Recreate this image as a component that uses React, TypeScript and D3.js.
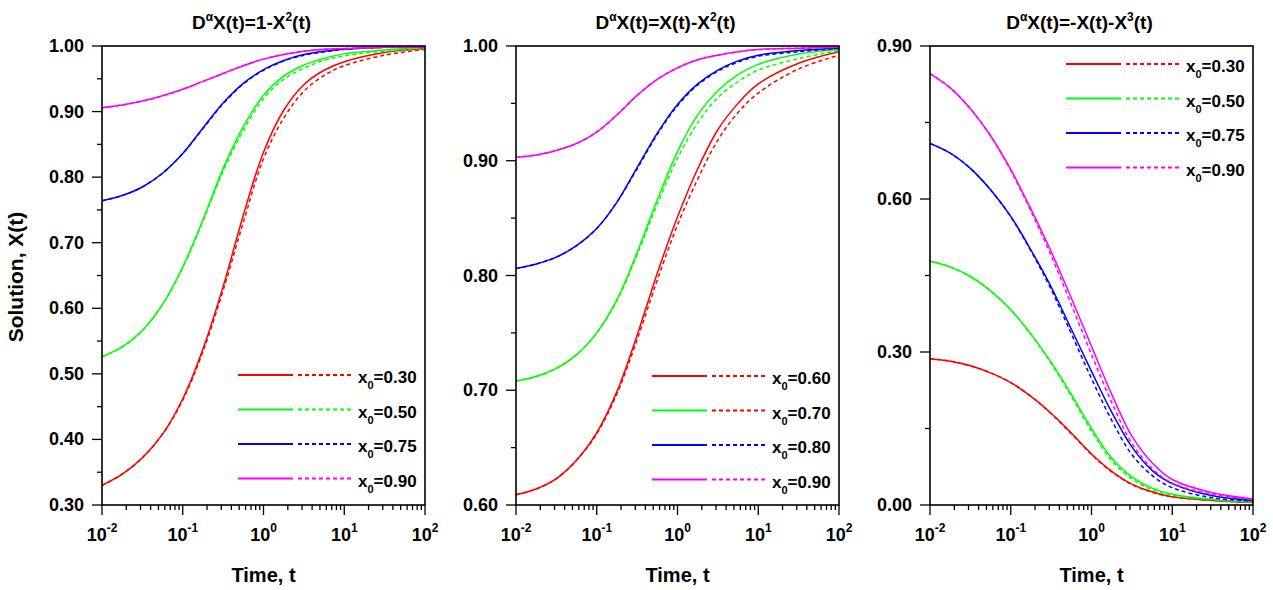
import * as d3 from "d3";

const times = [0.01, 0.0178, 0.0316, 0.0562, 0.1, 0.178, 0.316, 0.562, 1, 1.78, 3.16, 5.62, 10, 31.6, 100];

// panel 1: D^a X = 1 - X^2
const p1Labels = ["0.30", "0.50", "0.75", "0.90"];
const p1RedSolid = [0.330, 0.347, 0.372, 0.408, 0.462, 0.538, 0.633, 0.742, 0.838, 0.902, 0.941, 0.963, 0.976, 0.990, 0.996];
const p1RedDash = [0.330, 0.347, 0.372, 0.408, 0.460, 0.534, 0.627, 0.731, 0.828, 0.890, 0.931, 0.955, 0.970, 0.986, 0.995];
const p1GreenSolid = [0.526, 0.541, 0.566, 0.606, 0.663, 0.735, 0.813, 0.877, 0.925, 0.954, 0.971, 0.981, 0.988, 0.994, 0.998];
const p1GreenDash = [0.526, 0.541, 0.566, 0.606, 0.662, 0.733, 0.809, 0.871, 0.920, 0.949, 0.966, 0.978, 0.985, 0.992, 0.997];
const p1BlueSolid = [0.764, 0.772, 0.785, 0.806, 0.836, 0.875, 0.913, 0.943, 0.964, 0.978, 0.987, 0.992, 0.995, 0.998, 0.999];
const p1BlueDash = [0.764, 0.772, 0.785, 0.806, 0.836, 0.874, 0.912, 0.942, 0.963, 0.977, 0.986, 0.991, 0.995, 0.998, 0.999];
const p1MagSolid = [0.906, 0.910, 0.916, 0.924, 0.934, 0.946, 0.958, 0.970, 0.980, 0.987, 0.992, 0.995, 0.996, 0.998, 0.999];
const p1MagDash = [0.906, 0.910, 0.916, 0.924, 0.934, 0.946, 0.958, 0.970, 0.980, 0.987, 0.992, 0.995, 0.996, 0.998, 0.999];

// panel 2: D^a X = X - X^2
const p2Labels = ["0.60", "0.70", "0.80", "0.90"];
const p2RedSolid = [0.609, 0.614, 0.623, 0.639, 0.663, 0.699, 0.748, 0.802, 0.851, 0.893, 0.927, 0.950, 0.967, 0.985, 0.995];
const p2RedDash = [0.609, 0.614, 0.623, 0.639, 0.662, 0.697, 0.744, 0.796, 0.844, 0.884, 0.918, 0.942, 0.959, 0.980, 0.992];
const p2GreenSolid = [0.708, 0.712, 0.719, 0.731, 0.750, 0.779, 0.820, 0.866, 0.908, 0.940, 0.961, 0.975, 0.984, 0.993, 0.997];
const p2GreenDash = [0.708, 0.712, 0.719, 0.731, 0.750, 0.778, 0.818, 0.862, 0.902, 0.933, 0.955, 0.969, 0.979, 0.989, 0.996];
const p2BlueSolid = [0.806, 0.810, 0.816, 0.826, 0.841, 0.864, 0.894, 0.924, 0.949, 0.967, 0.979, 0.987, 0.992, 0.996, 0.998];
const p2BlueDash = [0.806, 0.810, 0.816, 0.826, 0.841, 0.864, 0.893, 0.923, 0.948, 0.966, 0.978, 0.986, 0.991, 0.995, 0.998];
const p2MagSolid = [0.903, 0.905, 0.909, 0.915, 0.925, 0.940, 0.957, 0.971, 0.981, 0.988, 0.992, 0.995, 0.997, 0.998, 0.999];
const p2MagDash = [0.903, 0.905, 0.909, 0.915, 0.925, 0.940, 0.957, 0.971, 0.981, 0.988, 0.992, 0.995, 0.997, 0.998, 0.999];

// panel 3: D^a X = -X - X^3
const p3Labels = ["0.30", "0.50", "0.75", "0.90"];
const p3RedSolid = [0.287, 0.282, 0.273, 0.259, 0.240, 0.213, 0.180, 0.141, 0.100, 0.066, 0.041, 0.026, 0.016, 0.009, 0.005];
const p3RedDash = [0.287, 0.282, 0.273, 0.259, 0.240, 0.213, 0.179, 0.140, 0.099, 0.065, 0.040, 0.025, 0.016, 0.009, 0.005];
const p3GreenSolid = [0.478, 0.467, 0.448, 0.420, 0.383, 0.335, 0.280, 0.217, 0.150, 0.092, 0.055, 0.033, 0.021, 0.011, 0.006];
const p3GreenDash = [0.478, 0.467, 0.448, 0.420, 0.383, 0.334, 0.278, 0.213, 0.145, 0.087, 0.051, 0.030, 0.019, 0.010, 0.006];
const p3BlueSolid = [0.709, 0.690, 0.660, 0.618, 0.566, 0.500, 0.428, 0.345, 0.262, 0.182, 0.114, 0.068, 0.042, 0.018, 0.009];
const p3BlueDash = [0.709, 0.690, 0.660, 0.618, 0.565, 0.498, 0.423, 0.336, 0.248, 0.166, 0.099, 0.058, 0.034, 0.014, 0.008];
const p3MagSolid = [0.846, 0.818, 0.777, 0.724, 0.658, 0.580, 0.497, 0.406, 0.311, 0.217, 0.135, 0.083, 0.050, 0.024, 0.012];
const p3MagDash = [0.846, 0.818, 0.777, 0.724, 0.656, 0.576, 0.489, 0.393, 0.295, 0.201, 0.121, 0.072, 0.043, 0.021, 0.011];

const xTickValues = [0.01, 0.1, 1, 10, 100];

const FONT = "Arial, 'Liberation Sans', Helvetica, sans-serif";
const RED = "#ff0000";
const GREEN = "#00ff00";
const BLUE = "#0000ff";
const MAGENTA = "#ff00ff";

const PW = 323;
const PH = 459;
const TOP = 46;

type Part = [string, boolean?];

const Panel = (props: any) => {
	const { left, title, yDomain, yMajor, yMinor, series, labels, legendTop } = props;

	const x = d3.scaleLog().domain([0.01, 100]).range([left, left + PW]);
	const y = d3.scaleLinear().domain(yDomain).range([TOP + PH, TOP]);

	const line = d3.line<number>()
		.x((d, i) => x(times[i]))
		.y(d => y(d))
		.curve(d3.curveCatmullRom.alpha(0.5));

	const minorX = x.ticks().filter(t => !xTickValues.some(v => Math.abs(v - t) / v < 1e-6));
	const yMaj = d3.range(yMajor[0], yMajor[1] + 1e-9, yMajor[2]);
	const yMin = d3.range(yMinor[0], yMinor[1] + 1e-9, yMinor[2]);
	const bottom = TOP + PH;
	const cx = left + PW / 2;

	return (
		<g>
			{/* title */}
			<text x={cx - 12} y={29} textAnchor="middle" fontSize={19} fontWeight="bold" fontFamily={FONT}>
				{title.map((p: Part, i: number) =>
					p[1]
						? <tspan key={i} dy={-8} fontSize={12}>{p[0]}</tspan>
						: <tspan key={i} dy={i > 0 && title[i - 1][1] ? 8 : 0}>{p[0]}</tspan>
				)}
			</text>

			{/* curves */}
			<defs>
				<clipPath id={`clip${left}`}>
					<rect x={left} y={TOP} width={PW} height={PH} />
				</clipPath>
			</defs>
			<g clipPath={`url(#clip${left})`}>
				{series.map((s: any, i: number) => (
					<g key={i}>
						<path d={line(s.dashed) || ""} fill="none" stroke={s.color} strokeWidth={1.5} strokeDasharray="4,3" />
						<path d={line(s.solid) || ""} fill="none" stroke={s.color} strokeWidth={1.5} />
					</g>
				))}
			</g>

			{/* frame */}
			<rect x={left} y={TOP} width={PW} height={PH} fill="none" stroke="#000" strokeWidth={1.6} />

			{/* y axis */}
			{yMin.map((v: number, i: number) => (
				<line key={"ym" + i} x1={left - 5} x2={left} y1={y(v)} y2={y(v)} stroke="#000" strokeWidth={1.3} />
			))}
			{yMaj.map((v: number, i: number) => (
				<g key={"yM" + i}>
					<line x1={left - 10} x2={left} y1={y(v)} y2={y(v)} stroke="#000" strokeWidth={1.3} />
					<text x={left - 18} y={y(v) + 6} textAnchor="end" fontSize={18} fontWeight="bold" fontFamily={FONT}>
						{d3.format(".2f")(v)}
					</text>
				</g>
			))}

			{/* x axis */}
			{minorX.map((v: number, i: number) => (
				<line key={"xm" + i} x1={x(v)} x2={x(v)} y1={bottom} y2={bottom + 5} stroke="#000" strokeWidth={1.3} />
			))}
			{xTickValues.map((v, i) => (
				<g key={"xM" + i}>
					<line x1={x(v)} x2={x(v)} y1={bottom} y2={bottom + 10} stroke="#000" strokeWidth={1.3} />
					<text x={x(v)} y={541} textAnchor="middle" fontSize={18} fontWeight="bold" fontFamily={FONT}>
						10<tspan dy={-9} fontSize={12}>{Math.round(Math.log10(v))}</tspan>
					</text>
				</g>
			))}
			<text x={cx} y={582} textAnchor="middle" fontSize={20} fontWeight="bold" fontFamily={FONT}>Time, t</text>

			{/* legend */}
			{series.map((s: any, i: number) => {
				const ly = legendTop + i * 34.5;
				return (
					<g key={"lg" + i}>
						<line x1={left + 136} x2={left + 191} y1={ly} y2={ly} stroke={s.color} strokeWidth={1.8} />
						<line x1={left + 196} x2={left + 251} y1={ly} y2={ly} stroke={s.legendDash || s.color} strokeWidth={1.8} strokeDasharray="4,3" />
						<text x={left + 256} y={ly + 8} fontSize={17} fontWeight="bold" fontFamily={FONT}>
							x<tspan dy={6} fontSize={11}>0</tspan><tspan dy={-6}>={labels[i]}</tspan>
						</text>
					</g>
				);
			})}
		</g>
	);
};

const App = () => {
	const s1 = [
		{ color: RED, solid: p1RedSolid, dashed: p1RedDash },
		{ color: GREEN, solid: p1GreenSolid, dashed: p1GreenDash },
		{ color: BLUE, solid: p1BlueSolid, dashed: p1BlueDash },
		{ color: MAGENTA, solid: p1MagSolid, dashed: p1MagDash },
	];
	const s2 = [
		{ color: RED, solid: p2RedSolid, dashed: p2RedDash },
		{ color: GREEN, solid: p2GreenSolid, dashed: p2GreenDash, legendDash: RED },
		{ color: BLUE, solid: p2BlueSolid, dashed: p2BlueDash },
		{ color: MAGENTA, solid: p2MagSolid, dashed: p2MagDash },
	];
	const s3 = [
		{ color: RED, solid: p3RedSolid, dashed: p3RedDash },
		{ color: GREEN, solid: p3GreenSolid, dashed: p3GreenDash },
		{ color: BLUE, solid: p3BlueSolid, dashed: p3BlueDash },
		{ color: MAGENTA, solid: p3MagSolid, dashed: p3MagDash },
	];

	return (
		<svg width={1273} height={590} style={{ position: "absolute", left: 0, top: 0, background: "#fff" }}>
			<rect width={1273} height={590} fill="#fff" />
			<text transform="translate(23,277) rotate(-90)" textAnchor="middle" fontSize={21} fontWeight="bold" fontFamily={FONT}>
				Solution, X(t)
			</text>
			<Panel left={102} yDomain={[0.3, 1.0]} yMajor={[0.3, 1.0, 0.1]} yMinor={[0.35, 0.95, 0.1]}
				series={s1} labels={p1Labels} legendTop={375}
				title={[["D"], ["α", true], ["X(t)=1-X"], ["2", true], ["(t)"]]} />
			<Panel left={516} yDomain={[0.6, 1.0]} yMajor={[0.6, 1.0, 0.1]} yMinor={[0.65, 0.95, 0.1]}
				series={s2} labels={p2Labels} legendTop={376}
				title={[["D"], ["α", true], ["X(t)=X(t)-X"], ["2", true], ["(t)"]]} />
			<Panel left={930} yDomain={[0.0, 0.9]} yMajor={[0.0, 0.9, 0.3]} yMinor={[0.15, 0.75, 0.3]}
				series={s3} labels={p3Labels} legendTop={64}
				title={[["D"], ["α", true], ["X(t)=-X(t)-X"], ["3", true], ["(t)"]]} />
		</svg>
	);
};

export default App;
